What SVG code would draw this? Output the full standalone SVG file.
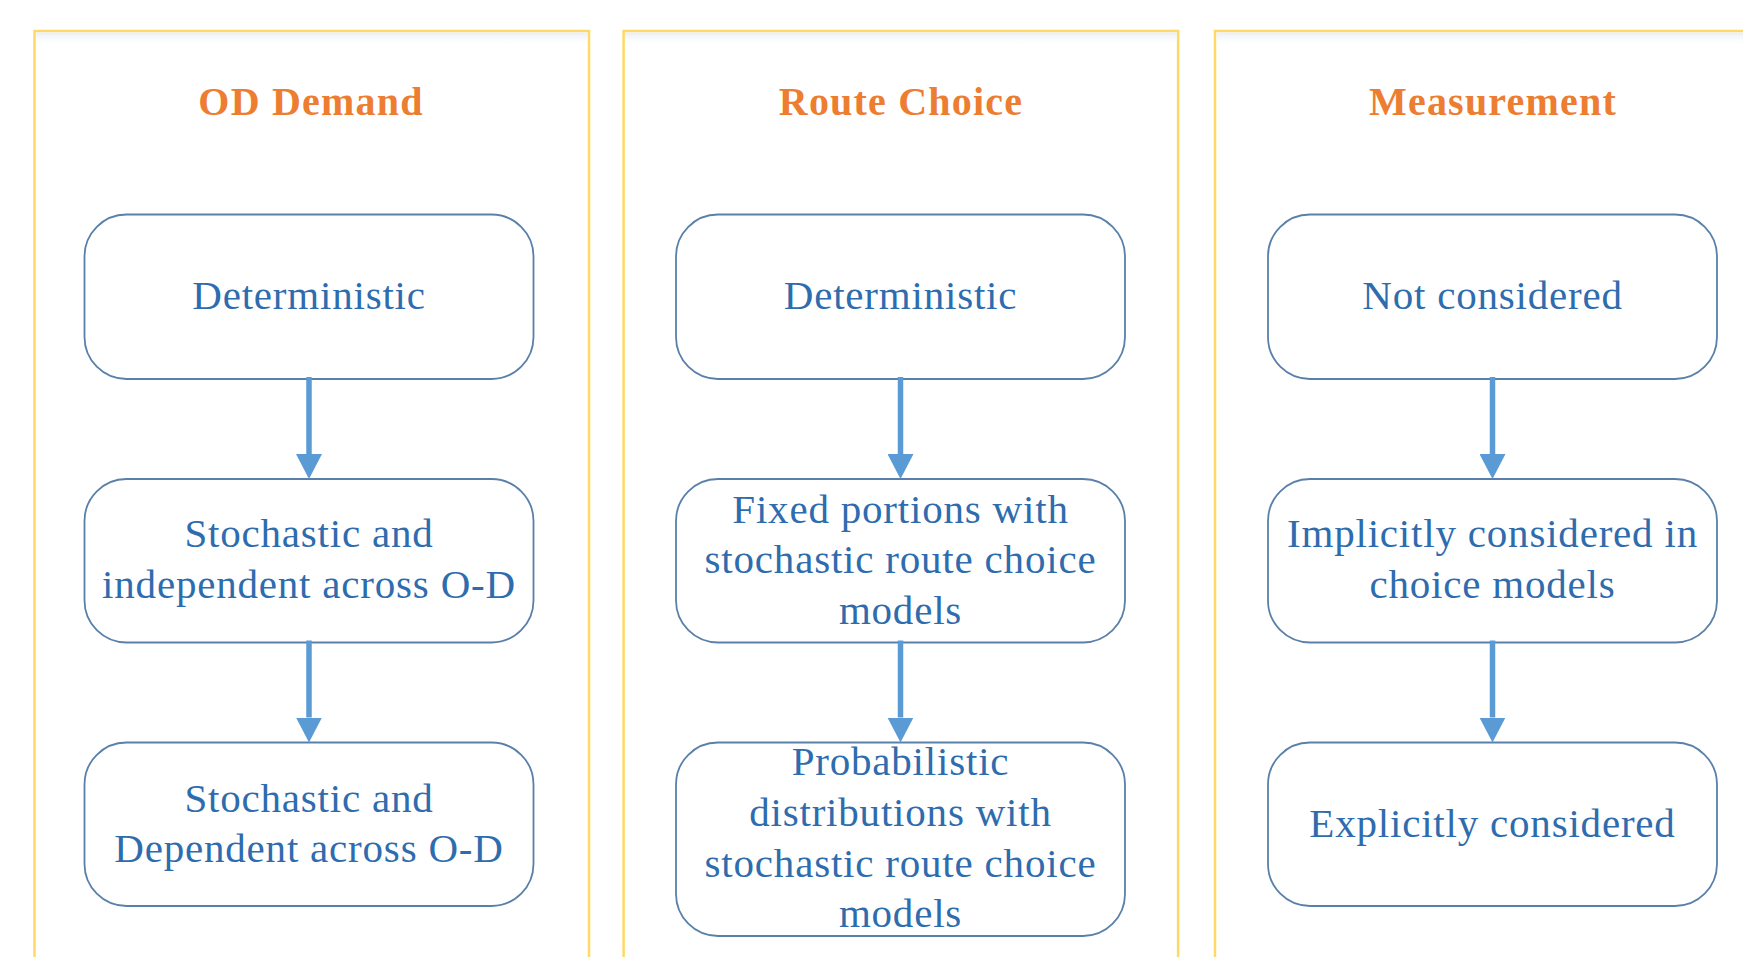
<svg xmlns="http://www.w3.org/2000/svg" width="1743" height="957" viewBox="0 0 1743 957">
<defs>
<linearGradient id="shade" x1="0" y1="0" x2="0" y2="1">
<stop offset="0" stop-color="#E9EEF5"/>
<stop offset="1" stop-color="#FFFFFF" stop-opacity="0"/>
</linearGradient>
<marker id="ah" viewBox="0 0 25 26" refX="0" refY="13" markerWidth="25" markerHeight="26" markerUnits="userSpaceOnUse" orient="auto">
<path d="M0,0 L25,13 L0,26 Z" fill="#5B9BD5"/>
</marker>
</defs>
<style>
.panel{fill:#FFFFFF;stroke:#FFD966;stroke-width:2.5}
.shade{fill:url(#shade)}
.title{font-family:"Liberation Serif","Times New Roman",serif;font-weight:bold;font-size:40px;letter-spacing:1.2px;fill:#ED7D31;text-anchor:middle}
.node rect{fill:#FFFFFF;stroke:#5A80AA;stroke-width:1.8}
.node text{font-family:"Liberation Serif","Times New Roman",serif;font-size:41px;letter-spacing:0.8px;fill:#2E6CAE;text-anchor:middle}
.conn line{stroke:#5B9BD5;stroke-width:5.5;marker-end:url(#ah)}
</style>
<rect width="1743" height="957" fill="#FFFFFF"/>
<g id="panel-od">
<rect class="panel" x="34.5" y="31" width="554.5" height="940"/>
<rect class="shade" x="36" y="32.5" width="551.5" height="14"/>
<text class="title" x="311" y="115">OD Demand</text>
</g>
<g id="panel-route">
<rect class="panel" x="623.6" y="31" width="554.5" height="940"/>
<rect class="shade" x="625" y="32.5" width="551.5" height="14"/>
<text class="title" x="901" y="115">Route Choice</text>
</g>
<g id="panel-meas">
<rect class="panel" x="1215" y="31" width="560" height="940"/>
<rect class="shade" x="1216.5" y="32.5" width="560" height="14"/>
<text class="title" x="1493" y="115">Measurement</text>
</g>

<g id="od1" class="node">
<rect x="84.5" y="214.5" width="449" height="164.5" rx="42"/>
<text x="309" y="309">Deterministic</text>
</g>
<g id="od2" class="node">
<rect x="84.5" y="479" width="449" height="163.5" rx="42"/>
<text x="309" y="547">Stochastic and</text>
<text x="309" y="598">independent across O-D</text>
</g>
<g id="od3" class="node">
<rect x="84.5" y="742.5" width="449" height="163.5" rx="42"/>
<text x="309" y="811.5">Stochastic and</text>
<text x="309" y="861.5">Dependent across O-D</text>
</g>

<g id="rc1" class="node">
<rect x="676" y="214.5" width="449" height="164.5" rx="42"/>
<text x="900.5" y="309">Deterministic</text>
</g>
<g id="rc2" class="node">
<rect x="676" y="479" width="449" height="163.5" rx="42"/>
<text x="900.5" y="522.5">Fixed portions with</text>
<text x="900.5" y="572.5">stochastic route choice</text>
<text x="900.5" y="623.5">models</text>
</g>
<g id="rc3" class="node">
<rect x="676" y="742.5" width="449" height="193.5" rx="42"/>
<text x="900.5" y="775">Probabilistic</text>
<text x="900.5" y="826">distributions with</text>
<text x="900.5" y="877">stochastic route choice</text>
<text x="900.5" y="927">models</text>
</g>

<g id="m1" class="node">
<rect x="1268" y="214.5" width="449" height="164.5" rx="42"/>
<text x="1492.5" y="309">Not considered</text>
</g>
<g id="m2" class="node">
<rect x="1268" y="479" width="449" height="163.5" rx="42"/>
<text x="1492.5" y="547">Implicitly considered in</text>
<text x="1492.5" y="598">choice models</text>
</g>
<g id="m3" class="node">
<rect x="1268" y="742.5" width="449" height="163.5" rx="42"/>
<text x="1492.5" y="837">Explicitly considered</text>
</g>

<g id="connectors" class="conn">
<line x1="309" y1="377" x2="309" y2="454"/>
<line x1="309" y1="640.5" x2="309" y2="717.5"/>
<line x1="900.5" y1="377" x2="900.5" y2="454"/>
<line x1="900.5" y1="640.5" x2="900.5" y2="717.5"/>
<line x1="1492.5" y1="377" x2="1492.5" y2="454"/>
<line x1="1492.5" y1="640.5" x2="1492.5" y2="717.5"/>
</g>
</svg>
